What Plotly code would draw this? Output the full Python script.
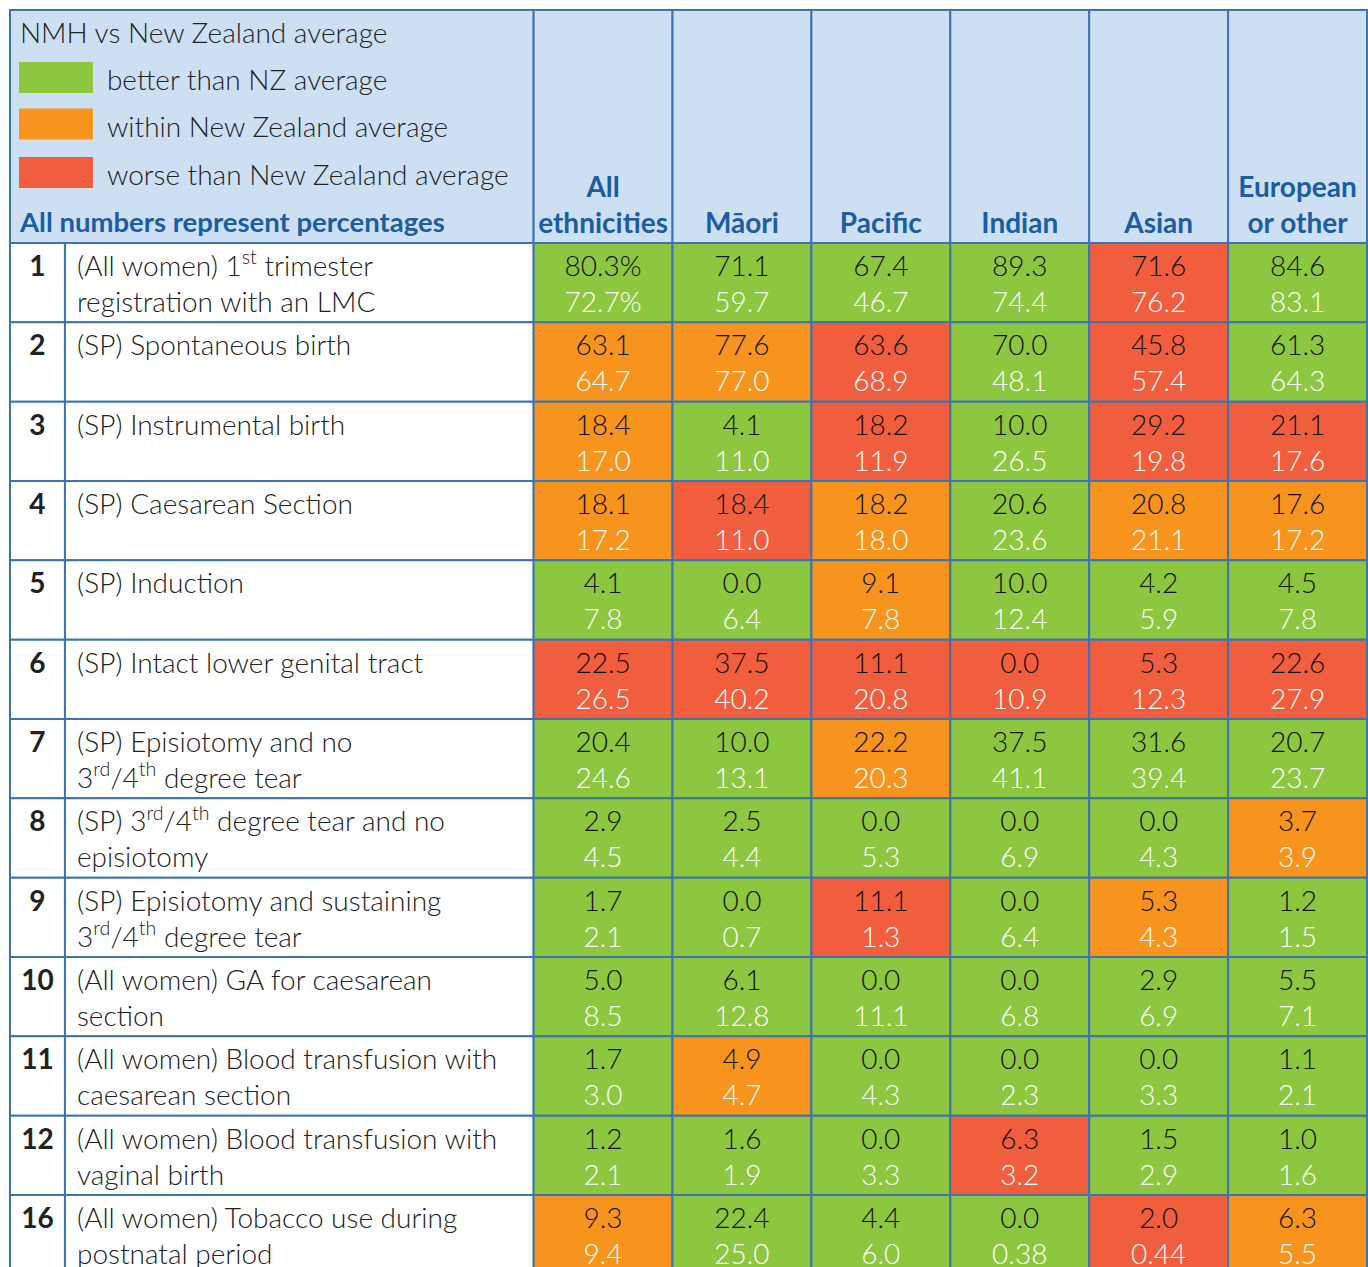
import plotly.graph_objects as go

# ---------------- data ----------------
ethnicities = ["All<br>ethnicities", "Māori", "Pacific", "Indian", "Asian", "European<br>or other"]
row_ids = ["1", "2", "3", "4", "5", "6", "7", "8", "9", "10", "11", "12", "16"]
indicators = [
    "(All women) 1<sup>st</sup> trimester<br>registration with an LMC",
    "(SP) Spontaneous birth",
    "(SP) Instrumental birth",
    "(SP) Caesarean Section",
    "(SP) Induction",
    "(SP) Intact lower genital tract",
    "(SP) Episiotomy and no<br>3<sup>rd</sup>/4<sup>th</sup> degree tear",
    "(SP) 3<sup>rd</sup>/4<sup>th</sup> degree tear and no<br>episiotomy",
    "(SP) Episiotomy and sustaining<br>3<sup>rd</sup>/4<sup>th</sup> degree tear",
    "(All women) GA for caesarean<br>section",
    "(All women) Blood transfusion with<br>caesarean section",
    "(All women) Blood transfusion with<br>vaginal birth",
    "(All women) Tobacco use during<br>postnatal period",
]
nmh_values = [
    ["80.3%", "71.1", "67.4", "89.3", "71.6", "84.6"],
    ["63.1", "77.6", "63.6", "70.0", "45.8", "61.3"],
    ["18.4", "4.1", "18.2", "10.0", "29.2", "21.1"],
    ["18.1", "18.4", "18.2", "20.6", "20.8", "17.6"],
    ["4.1", "0.0", "9.1", "10.0", "4.2", "4.5"],
    ["22.5", "37.5", "11.1", "0.0", "5.3", "22.6"],
    ["20.4", "10.0", "22.2", "37.5", "31.6", "20.7"],
    ["2.9", "2.5", "0.0", "0.0", "0.0", "3.7"],
    ["1.7", "0.0", "11.1", "0.0", "5.3", "1.2"],
    ["5.0", "6.1", "0.0", "0.0", "2.9", "5.5"],
    ["1.7", "4.9", "0.0", "0.0", "0.0", "1.1"],
    ["1.2", "1.6", "0.0", "6.3", "1.5", "1.0"],
    ["9.3", "22.4", "4.4", "0.0", "2.0", "6.3"],
]
nz_values = [
    ["72.7%", "59.7", "46.7", "74.4", "76.2", "83.1"],
    ["64.7", "77.0", "68.9", "48.1", "57.4", "64.3"],
    ["17.0", "11.0", "11.9", "26.5", "19.8", "17.6"],
    ["17.2", "11.0", "18.0", "23.6", "21.1", "17.2"],
    ["7.8", "6.4", "7.8", "12.4", "5.9", "7.8"],
    ["26.5", "40.2", "20.8", "10.9", "12.3", "27.9"],
    ["24.6", "13.1", "20.3", "41.1", "39.4", "23.7"],
    ["4.5", "4.4", "5.3", "6.9", "4.3", "3.9"],
    ["2.1", "0.7", "1.3", "6.4", "4.3", "1.5"],
    ["8.5", "12.8", "11.1", "6.8", "6.9", "7.1"],
    ["3.0", "4.7", "4.3", "2.3", "3.3", "2.1"],
    ["2.1", "1.9", "3.3", "3.2", "2.9", "1.6"],
    ["9.4", "25.0", "6.0", "0.38", "0.44", "5.5"],
]
# B = better, W = within, X = worse than NZ average
status = [
    ["B", "B", "B", "B", "X", "B"],
    ["W", "W", "X", "B", "X", "B"],
    ["W", "B", "X", "B", "X", "X"],
    ["W", "X", "W", "B", "W", "W"],
    ["B", "B", "W", "B", "B", "B"],
    ["X", "X", "X", "X", "X", "X"],
    ["B", "B", "W", "B", "B", "B"],
    ["B", "B", "B", "B", "B", "W"],
    ["B", "B", "X", "B", "W", "B"],
    ["B", "B", "B", "B", "B", "B"],
    ["B", "W", "B", "B", "B", "B"],
    ["B", "B", "B", "X", "B", "B"],
    ["W", "B", "B", "B", "X", "W"],
]
legend_title = "NMH vs New Zealand average"
legend_keys = ["B", "W", "X"]
legend_labels = ["better than NZ average", "within New Zealand average", "worse than New Zealand average"]
note = "All numbers represent percentages"

# ---------------- style / layout constants ----------------
STATUS_COLORS = {"B": "#8dc63f", "W": "#f7941d", "X": "#f15e3e"}
HEADER_BG = "#cde0f3"
BORDER = "#3d74b0"
HEAD_BLUE = "#1b5ca3"
TEXT_DARK = "#222222"
FONT = "Lato"
FS = 28
W, H = 1368, 1267
X0 = 10
COL_W = [55, 469] + [139] * 6
HEAD_TOP, HEAD_BOTTOM = 10, 243
ROW_H = 79.33
LINE1, LINE2 = 26, 62             # anchor of first / second text line below row top
HEAD_LINES = [189.5, 225.5]       # header line anchors (2-line / last line)
LEG_TEXT_Y = [36, 83, 129.5, 177.5, 225.5]
SW_Y = [77.5, 124, 172.5]         # swatch centres
SW_X, SW_W, SW_H = 19, 74, 31
LEG_TEXT_X = 107
LABEL_PAD = 12

edges = [X0]
for w in COL_W:
    edges.append(edges[-1] + w)
centers = [(edges[i] + edges[i + 1]) / 2 for i in range(len(COL_W))]
row_tops = [HEAD_BOTTOM + i * ROW_H for i in range(len(row_ids))]
n_rows, n_eth = len(row_ids), len(ethnicities)

traces = []
line = dict(color=BORDER, width=2)

# header cells: legend cell spans number + label columns
hx = [(edges[0] + edges[2]) / 2] + centers[2:]
hw = [edges[2] - edges[0]] + COL_W[2:]
traces.append(go.Bar(x=hx, width=hw, base=[HEAD_TOP] * len(hx), y=[HEAD_BOTTOM - HEAD_TOP] * len(hx),
                     marker=dict(color=HEADER_BG, line=line), hoverinfo="skip", showlegend=False))

# body cells
bx, bw, bb, bc = [], [], [], []
for i in range(n_rows):
    for j in range(len(COL_W)):
        bx.append(centers[j])
        bw.append(COL_W[j])
        bb.append(row_tops[i])
        bc.append("white" if j < 2 else STATUS_COLORS[status[i][j - 2]])
traces.append(go.Bar(x=bx, width=bw, base=bb, y=[ROW_H] * len(bx),
                     marker=dict(color=bc, line=line), hoverinfo="skip", showlegend=False))

# legend swatches
traces.append(go.Bar(x=[SW_X + SW_W / 2] * 3, width=[SW_W] * 3,
                     base=[c - SW_H / 2 for c in SW_Y], y=[SW_H] * 3,
                     marker=dict(color=[STATUS_COLORS[k] for k in legend_keys], line=dict(width=0)),
                     hoverinfo="skip", showlegend=False))


def text_trace(xs, ys, texts, color, size=FS, weight=300, pos="middle center"):
    return go.Scatter(x=xs, y=ys, text=texts, mode="text", textposition=pos,
                      textfont=dict(family=FONT, size=size, color=color, weight=weight),
                      hoverinfo="skip", showlegend=False, cliponaxis=False)


# legend texts
traces.append(text_trace([X0 + 10] + [LEG_TEXT_X] * 3, LEG_TEXT_Y[:4], [legend_title] + legend_labels,
                         TEXT_DARK, pos="middle right"))
traces.append(text_trace([X0 + 10], [LEG_TEXT_Y[4]], [note], HEAD_BLUE, size=27.5, weight=700,
                         pos="middle right"))

# column headers
hxs, hys, hts = [], [], []
for j, e in enumerate(ethnicities):
    parts = e.split("<br>")
    for k, p in enumerate(parts):
        hxs.append(centers[j + 2])
        hys.append(HEAD_LINES[k + 2 - len(parts)])
        hts.append(p)
traces.append(text_trace(hxs, hys, hts, HEAD_BLUE, weight=700))

# row numbers
traces.append(text_trace([centers[0]] * n_rows, [t + LINE1 for t in row_tops], row_ids, TEXT_DARK, weight=700))

# indicator labels (one point per text line)
lx, ly, lt = [], [], []
for i, lab in enumerate(indicators):
    for k, p in enumerate(lab.split("<br>")):
        lx.append(edges[1] + LABEL_PAD)
        ly.append(row_tops[i] + (LINE1 if k == 0 else LINE2))
        lt.append(p)
traces.append(text_trace(lx, ly, lt, TEXT_DARK, pos="middle right"))

# values
vx, vy1, vy2, vt1, vt2 = [], [], [], [], []
for i in range(n_rows):
    for j in range(n_eth):
        vx.append(centers[j + 2])
        vy1.append(row_tops[i] + LINE1)
        vy2.append(row_tops[i] + LINE2)
        vt1.append(nmh_values[i][j])
        vt2.append(nz_values[i][j])
traces.append(text_trace(vx, vy1, vt1, "#111111"))
traces.append(text_trace(vx, vy2, vt2, "white"))

fig = go.Figure(traces)
fig.update_layout(width=W, height=H, margin=dict(l=0, r=0, t=0, b=0),
                  paper_bgcolor="white", plot_bgcolor="white", barmode="overlay",
                  xaxis=dict(range=[0, W + 1], visible=False, fixedrange=True),
                  yaxis=dict(range=[H, 0], visible=False, fixedrange=True),
                  font=dict(family=FONT))
fig.write_html("out.html", post_script="document.body.style.margin='0';",
               config={"displayModeBar": False})
